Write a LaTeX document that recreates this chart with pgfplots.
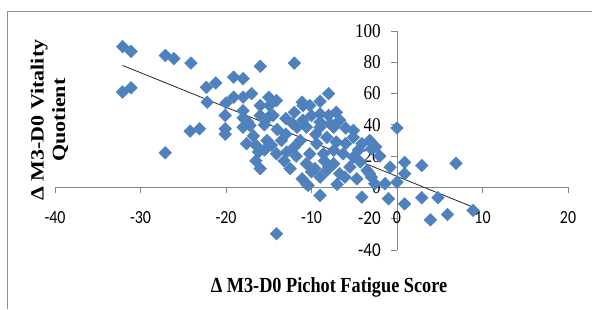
\documentclass[border=0pt]{standalone}
\usepackage{pgfplots}
\pgfplotsset{compat=1.18}
\usepackage{graphicx}
\usepackage{fontspec}
\setmainfont{Liberation Serif}
\newfontfamily\calibri{Carlito}
\definecolor{mblue}{HTML}{4F81BD}
\definecolor{axgray}{HTML}{868686}
\begin{document}
\begin{tikzpicture}[x=1pt,y=1pt]
\useasboundingbox (0,0) rectangle (592,309);
\draw[axgray!90, line width=1pt] (7,0) -- (7,298) -- (592,298);
\begin{axis}[at={(55pt,59pt)}, anchor=south west, scale only axis, width=513pt, height=219pt,
 xmin=-40,xmax=20,ymin=-40,ymax=100,
 axis lines=middle, axis line style={-, draw=axgray, line width=0.8pt},
 hide obscured x ticks=false, hide obscured y ticks=false,
 xtick={-40,-30,...,20}, xticklabels={-40,-30,-20,-10,0,10,20},
 ytick={-40,-20,...,100}, yticklabels={{\calibri -40},{\calibri -20},0,20,40,60,80,100},
 tick align=outside, major tick length=6pt, tick style={draw=axgray, line width=0.8pt},
 xticklabel style={font=\calibri\fontsize{18.5}{18.5}\selectfont, anchor=north, yshift=-18pt, xscale=0.86, inner sep=0pt},
 yticklabel style={font=\fontsize{19.5}{19.5}\selectfont, anchor=east, xshift=-10pt, xscale=0.88, inner sep=0pt},
 clip=false]
\addplot[only marks, mark=square*, mark size=4.5pt, mark options={rotate=45, fill=mblue, draw=mblue}] coordinates {
(-32.1,90) (-31.1,87) (-32.1,61) (-31.1,63.7) (-27.1,84.4) (-26.1,82.3) (-24.1,79.5)
(-27.1,22.2) (-24.2,36) (-23.1,37.5) (-22.3,64) (-21.2,66.7) (-22.2,54.5)
(-19.1,70.5) (-18.0,69.5) (-16.0,77.5) (-12.0,79.5) (-19.1,57.7) (-18.0,57.7)
(-17.0,60) (-15.0,57.7) (-14.1,55.6) (-16.0,52.4) (-14.9,52.4) (-20.0,54)
(-20.1,46) (-18.0,49) (-18.0,44.5) (-16.0,46) (-15.0,45) (-12.0,48) (-11.0,52.4)
(-11.0,43) (-12.2,40.7) (-17.2,39.6) (-20.1,37.5) (-20.1,34) (-18.0,38.5)
(-16.8,33) (-16.2,22.6) (-16.0,12) (-14.7,27) (-14.1,21.5) (-12.9,22.6)
(-13.5,30) (-15.2,30) (-11.1,5.5) (-10.6,2.4) (-14.1,-29.6) (-11.7,38.5)
(-11.3,30) (0,38) (-5.1,32) (-4.1,28) (-3.2,30) (-3.0,24.7) (-6.3,21.5)
(-5.1,19.4) (-4.3,16.2) (-3.5,10.9) (-3.0,6.6) (-4.1,-6.2) (-1.0,-7.2)
(-1.4,2.4) (0,3.4) (-0.8,13) (0.9,-10.5) (0.9,16) (-9.0,-5.1) (-10.4,1.3)
(-10.6,15.2) (-9.6,12) (-8.2,10.9) (-6.7,8.8) (-6.1,6.6) (-7.4,15.2)
(-10.6,38.5) (-9.0,38.5) (-7.4,38.5) (-8.2,32) (-9.4,28) (-7.1,29)
(-10.2,21.5) (-8.6,21.5) (-7.4,23.7) (-8.0,60) (-10.2,52.4) (-11.1,54.5)
(-9.0,47) (-8.0,46) (-7.1,48) (-6.7,43) (-7.8,40.7) (-9.0,41.8) (-5.1,36.4)
(2.9,14) (6.9,15.5) (0.9,8.8) (2.9,-6.6) (4.8,-6.6) (3.9,-20.7) (5.9,-17.3)
(8.9,-14.7) (-8.0,13) (-4.7,5.5) (-3.2,8.8) (-2.6,2.4) (-9.0,6.6)
(-17.5,42) (-15.5,40) (-14,37) (-13,34) (-16.5,27) (-15.5,24) (-13.2,17)
(-12,26) (-12.5,12) (-16.5,17) (-17.6,28) (-14.5,46) (-13,44) (-10,46)
(-9.5,34) (-6,38) (-6,28) (-4.5,24) (-2,20) (-8.5,17) (-11.8,20) (-10,10)
(-7,2) (-5.5,13) (-2.5,26) (-9,55)
};
\addplot[black!85, line width=0.8pt] coordinates {(-32.1,78) (8.9,-12.6)};
\end{axis}
\node[anchor=base, font=\bfseries\fontsize{21.5}{21.5}\selectfont, inner sep=0pt] at (329,17) {\scalebox{0.85}[1]{Δ M3-D0 Pichot Fatigue Score}};
\node[anchor=base, rotate=90, font=\bfseries\fontsize{22}{22}\selectfont, inner sep=0pt] at (43.5,189) {\scalebox{1}[0.85]{Δ M3-D0 Vitality}};
\node[anchor=base, rotate=90, font=\bfseries\fontsize{22}{22}\selectfont, inner sep=0pt] at (65,189) {\scalebox{1}[0.85]{Quotient}};
\end{tikzpicture}
\end{document}
